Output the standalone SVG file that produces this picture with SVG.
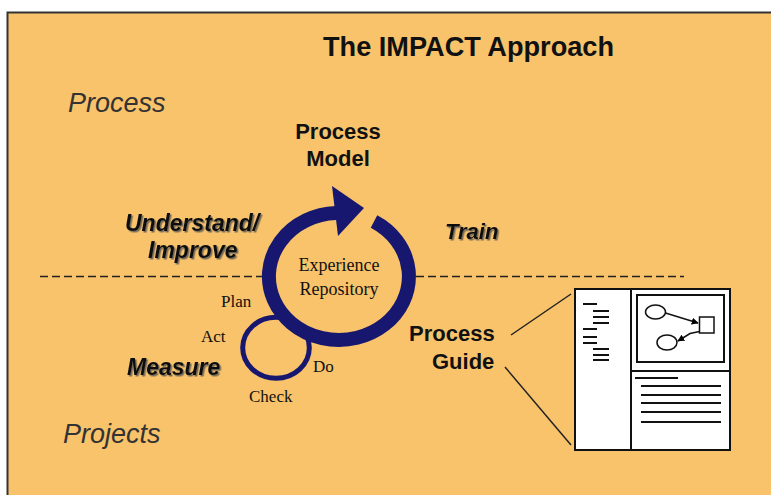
<svg xmlns="http://www.w3.org/2000/svg" width="771" height="495" viewBox="0 0 771 495">
  <defs>
    <filter id="shadow" x="-10%" y="-20%" width="130%" height="150%">
      <feDropShadow dx="1.5" dy="1.5" stdDeviation="0.4" flood-color="#555" flood-opacity="0.8"/>
    </filter>
    <marker id="tri2" viewBox="0 0 10 10" refX="9" refY="5" markerWidth="7" markerHeight="7" orient="auto" markerUnits="userSpaceOnUse">
      <path d="M0,0 L10,5 L0,10 Z" fill="#000"/>
    </marker>
  </defs>
  <style>
    .sans { font-family: "Liberation Sans", Arial, sans-serif; fill: #111; }
    .serif { font-family: "Liberation Serif", "Times New Roman", serif; fill: #111; }
    .bold { font-weight: bold; }
    .bi { font-weight: bold; font-style: italic; filter: url(#shadow); }
    .lane { font-style: italic; fill: #333; font-size: 27px; }
    .ring { fill: none; stroke: #17176f; }
    .doc { fill: #fff; stroke: #111; stroke-width: 2; }
    .dl { stroke: #111; stroke-width: 2; }
    .conn { stroke: #222; stroke-width: 1.5; fill: none; }
    .dash { stroke: #222; stroke-width: 1.5; stroke-dasharray: 8 4; }
  </style>

  <rect x="0" y="0" width="771" height="495" fill="#ffffff"/>
  <rect id="frame" x="7.5" y="12.5" width="800" height="520" fill="#f8c36b" stroke="#333" stroke-width="2"/>

  <g id="title">
    <text class="sans" x="323" y="56" font-size="27" font-weight="bold" textLength="291" lengthAdjust="spacingAndGlyphs">The IMPACT Approach</text>
  </g>

  <g id="lane-process">
    <text class="sans lane" x="68" y="112">Process</text>
  </g>
  <g id="lane-projects">
    <text class="sans lane" x="63" y="443">Projects</text>
  </g>

  <g id="divider">
    <line class="dash" x1="40" y1="276.5" x2="264" y2="276.5"/>
    <line class="dash" x1="416" y1="276.5" x2="684" y2="276.5"/>
  </g>

  <g id="process-model">
    <text class="sans bold" x="338" y="139" font-size="22" text-anchor="middle">Process</text>
    <text class="sans bold" x="338" y="166" font-size="22" text-anchor="middle">Model</text>
  </g>

  <g id="understand-improve">
    <text class="sans bi" x="125" y="231" font-size="23">Understand/</text>
    <text class="sans bi" x="148" y="258" font-size="23">Improve</text>
  </g>

  <g id="train">
    <text class="sans bi" x="445" y="239" font-size="22">Train</text>
  </g>

  <g id="measure">
    <text class="sans bi" x="127" y="375" font-size="23">Measure</text>
  </g>

  <g id="pdca-cycle">
    <ellipse class="ring" cx="276" cy="347.8" rx="33.3" ry="30.5" stroke-width="5"/>
    <text class="serif" x="221" y="307" font-size="17">Plan</text>
    <text class="serif" x="201" y="342" font-size="17">Act</text>
    <text class="serif" x="313" y="372" font-size="17">Do</text>
    <text class="serif" x="249" y="402" font-size="17">Check</text>
  </g>

  <g id="experience-repository">
    <path class="ring" d="M374,221.5 A70,63.5 0 1 1 336,213" stroke-width="14"/>
    <polygon points="332,186 364,208 338,236" fill="#17176f"/>
    <text class="serif" x="339" y="271" font-size="18" text-anchor="middle">Experience</text>
    <text class="serif" x="339" y="295" font-size="18" text-anchor="middle">Repository</text>
  </g>

  <g id="process-guide">
    <text class="sans bold" x="409" y="341" font-size="22">Process</text>
    <text class="sans bold" x="432" y="369" font-size="22">Guide</text>
  </g>

  <g id="connectors">
    <line class="conn" x1="511" y1="335" x2="571" y2="294"/>
    <line class="conn" x1="505" y1="367" x2="571" y2="445"/>
  </g>

  <g id="guide-document">
    <rect class="doc" x="575" y="289" width="155" height="161"/>
    <line class="dl" x1="631" y1="289" x2="631" y2="450"/>
    <line class="dl" x1="631" y1="371" x2="730" y2="371"/>
    <rect class="doc" x="637" y="295" width="87" height="67"/>
    <ellipse cx="655.5" cy="312" rx="10" ry="7" fill="none" stroke="#111" stroke-width="1.5"/>
    <rect x="699.5" y="317" width="14.5" height="16" fill="none" stroke="#111" stroke-width="1.5"/>
    <ellipse cx="667" cy="342.5" rx="10" ry="7.5" fill="none" stroke="#111" stroke-width="1.5"/>
    <line x1="665.5" y1="313" x2="698" y2="323" stroke="#111" stroke-width="1.5" marker-end="url(#tri2)"/>
    <polyline points="699.5,331.5 690,333.5 678,341" fill="none" stroke="#111" stroke-width="1.5" marker-end="url(#tri2)"/>
    <g class="dl">
      <line x1="583" y1="304" x2="597" y2="304"/>
      <line x1="593" y1="311" x2="609" y2="311"/>
      <line x1="593" y1="317" x2="609" y2="317"/>
      <line x1="593" y1="323" x2="609" y2="323"/>
      <line x1="583" y1="329" x2="597" y2="329"/>
      <line x1="583" y1="337" x2="597" y2="337"/>
      <line x1="583" y1="343" x2="597" y2="343"/>
      <line x1="593" y1="349" x2="609" y2="349"/>
      <line x1="593" y1="355" x2="609" y2="355"/>
      <line x1="593" y1="360" x2="609" y2="360"/>
      <line x1="635" y1="378" x2="678" y2="378"/>
      <line x1="641" y1="386" x2="721" y2="386"/>
      <line x1="641" y1="395" x2="721" y2="395"/>
      <line x1="641" y1="403" x2="721" y2="403"/>
      <line x1="641" y1="412" x2="721" y2="412"/>
      <line x1="641" y1="422" x2="721" y2="422"/>
    </g>
  </g>
</svg>
